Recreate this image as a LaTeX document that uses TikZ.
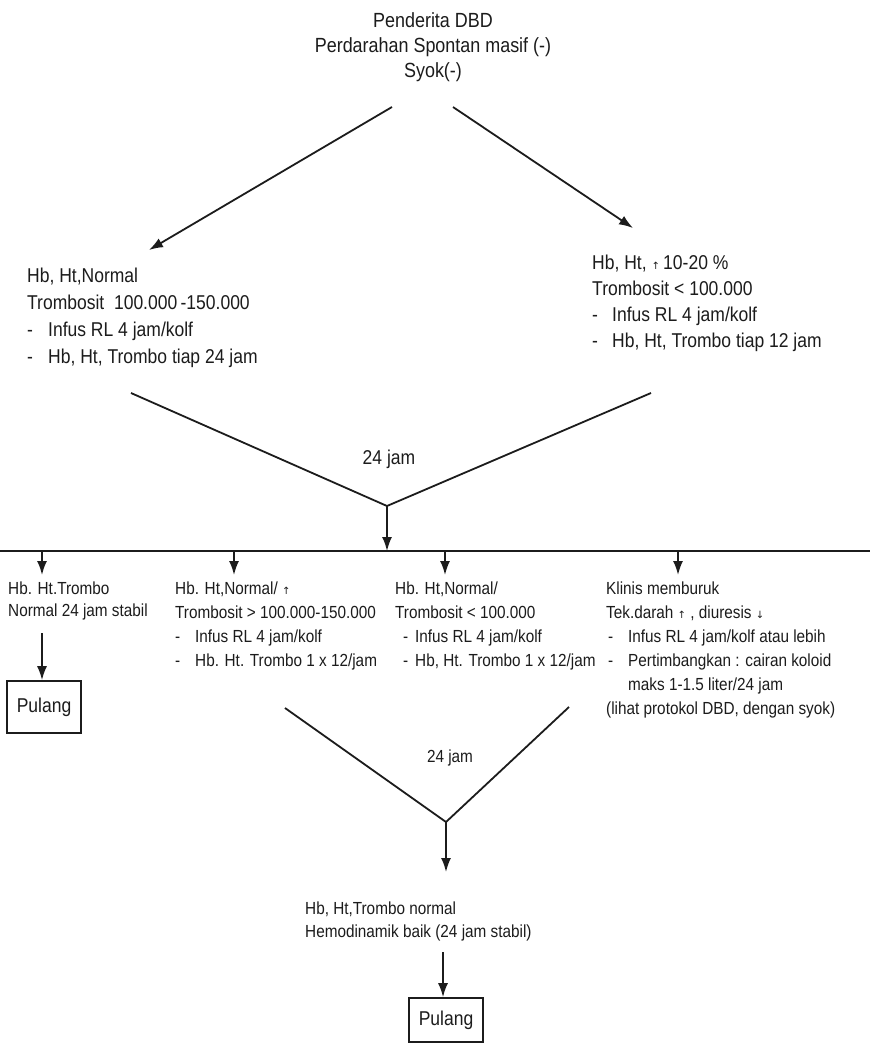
\documentclass[tikz,border=0pt]{standalone}
\usepackage{fontspec}
\setmainfont[FakeStretch=0.875]{Liberation Sans}
\newfontfamily\symfont{DejaVu Sans}
\usetikzlibrary{arrows.meta}
% small arrows used inside the texts
\newcommand{\myup}{{\symfont\fontsize{10}{10}\selectfont ↑}}
\newcommand{\mydown}{{\symfont\fontsize{10}{10}\selectfont ↓}}
% list dash with a fixed indent
\newcommand{\itm}[1][21pt]{\makebox[#1][l]{-}}
\definecolor{inkc}{HTML}{1C1C1C}

\begin{document}
\begin{tikzpicture}[x=1pt,y=-1pt,
  ink/.style={draw=inkc, line width=1.8pt},
  flow/.style={ink, -{Latex[length=14pt,width=10pt]}},
  txt/.style={inner sep=0pt, align=left, anchor=north west, text=inkc},
  big/.style={txt, font=\fontsize{20}{27}\selectfont},
  small/.style={txt, font=\fontsize{17.5}{24}\selectfont},
  endbox/.style={draw=inkc, line width=1.6pt, minimum width=74pt, inner sep=0pt,
    text=inkc, font=\fontsize{20}{24}\selectfont}]
\useasboundingbox (0,0) rectangle (870,1049);
\fill[white] (0,0) rectangle (870,1049);

% header
\node[txt, align=center, anchor=north, font=\fontsize{20.5}{25}\selectfont] (head) at (433,12)
  {Penderita DBD\\Perdarahan Spontan masif (-)\\Syok(-)};

% first split
\coordinate (a1s) at (392,107); \coordinate (a1e) at (149,250);
\coordinate (a2s) at (453,107); \coordinate (a2e) at (633,228);
\draw[flow] (a1s) -- (a1e);
\draw[flow] (a2s) -- (a2e);

\node[big] (lb) at (27,268)
  {Hb, Ht,Normal\\Trombosit\ \ 100.000\,-150.000\\\itm Infus RL 4 jam/kolf\\\itm Hb, Ht, Trombo tiap 24 jam};
\node[big, font=\fontsize{20}{26}\selectfont] (rb) at (592,255)
  {Hb, Ht, \myup\,10-20 \%\\Trombosit < 100.000\\\itm[20pt]Infus RL 4 jam/kolf\\\itm[20pt]Hb, Ht, Trombo tiap 12 jam};

% merge after 24 hours
\coordinate (v1l) at (131,393); \coordinate (v1r) at (651,393); \coordinate (v1b) at (387,506);
\draw[ink] (v1l) -- (v1b) -- (v1r);
\node[text=inkc, inner sep=0pt, font=\fontsize{20}{24}\selectfont] (d1) at (389,459) {24 jam};
\coordinate (bar) at (387,551);
\draw[flow] (v1b) -- (bar);

% distribution bar
\coordinate (barL) at (0,551); \coordinate (barR) at (870,551);
\draw[ink] (barL) -- (barR);
\foreach \n/\x in {1/42,2/234,3/445,4/678}{
  \coordinate (s\n) at (\x,551);
  \coordinate (t\n) at (\x,575);
  \draw[flow] (s\n) -- (t\n);
}

% four outcomes
\node[small, font=\fontsize{17.5}{22}\selectfont] (c1) at (8,582)
  {Hb. Ht.Trombo\\Normal 24 jam stabil};
\node[small] (c2) at (175,582)
  {Hb. Ht,Normal/ \myup\\Trombosit > 100.000-150.000\\\itm[20pt]Infus RL 4 jam/kolf\\\itm[20pt]Hb. Ht. Trombo 1 x 12/jam};
\node[small] (c3) at (395,582)
  {Hb. Ht,Normal/\\Trombosit < 100.000\\\hspace*{8pt}\itm[12pt]Infus RL 4 jam/kolf\\\hspace*{8pt}\itm[12pt]Hb, Ht. Trombo 1 x 12/jam};
\node[small] (c4) at (606,582)
  {Klinis memburuk\\Tek.darah \myup\ , diuresis \mydown\\\hspace*{2pt}\itm[20pt]Infus RL 4 jam/kolf atau lebih\\\hspace*{2pt}\itm[20pt]Pertimbangkan : cairan koloid\\\hspace*{22pt}maks 1-1.5 liter/24 jam\\(lihat protokol DBD, dengan syok)};

% discharge from the first outcome
\node[endbox, minimum height=52pt] (p1) at (44,707) {Pulang};
\coordinate (p1in) at (42,633);
\draw[flow] (p1in) -- (p1in |- p1.north);

% second merge
\coordinate (v2l) at (285,708); \coordinate (v2r) at (569,707); \coordinate (v2b) at (446,822);
\draw[ink] (v2l) -- (v2b) -- (v2r);
\node[text=inkc, inner sep=0pt, font=\fontsize{17.5}{22}\selectfont] (d2) at (450,758) {24 jam};
\coordinate (v2e) at (446,872);
\draw[flow] (v2b) -- (v2e);

\node[small, font=\fontsize{17.5}{23}\selectfont] (fin) at (305,902)
  {Hb, Ht,Trombo normal\\Hemodinamik baik (24 jam stabil)};
\node[endbox, minimum height=44pt] (p2) at (446,1020) {Pulang};
\coordinate (p2in) at (443,952);
\draw[flow] (p2in) -- (p2in |- p2.north);
\end{tikzpicture}
\end{document}
